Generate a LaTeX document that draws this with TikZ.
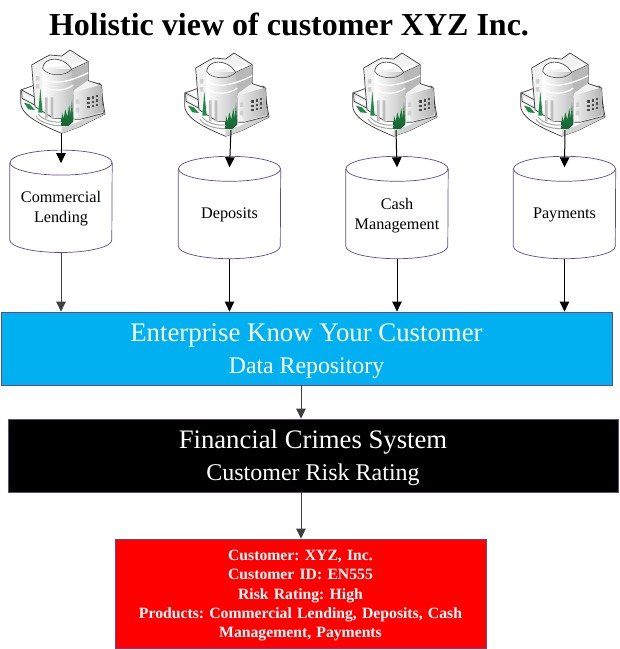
\documentclass[tikz,border=0pt]{standalone}
\usepackage{fontspec}
\setmainfont{Liberation Serif}
\usetikzlibrary{shapes.geometric,arrows.meta,positioning,calc}

\definecolor{edgepurple}{HTML}{5F4B8B}
\definecolor{arrowgray}{HTML}{404040}
\definecolor{repoblue}{HTML}{00B0F0}
\definecolor{bankgreen}{HTML}{1E8C46}
\definecolor{bankline}{HTML}{3C3C3C}

\tikzset{
    store/.style={rectangle, inner sep=0pt, minimum width=102pt, minimum height=102pt},
    storeline/.style={draw=edgepurple, line width=0.7pt},
    storetext/.style={align=center, inner sep=0pt, font=\fontsize{16.2}{20}\selectfont},
    band/.style={rectangle, draw=edgepurple, line width=0.8pt, text=white, align=center, inner sep=0pt},
    arrow/.style={-{Triangle[width=9.5pt,length=10pt]}, line width=1pt},
    grayarrow/.style={arrow, draw=arrowgray, color=arrowgray},
    bank/.pic={
        \begin{scope}[x=0.3333pt, y=-0.3333pt]
        % platform and sign
        \draw[bankline, fill=white, line width=0.7pt] (62,150) -- (62,190) .. controls (65,220) and (100,245) .. (185,280) -- (235,262) -- (315,222) -- (300,130) -- (120,130) -- cycle;
        \fill[black!18] (185,280) -- (235,262) -- (315,222) -- (300,215) -- (225,250) -- (185,262) -- cycle;
        \draw[bankline, fill=black!8, line width=0.7pt] (65,150) -- (106,172) -- (104,195) -- (66,175) -- cycle;
        \fill[white] (72,162) -- (100,177) -- (98,187) -- (72,172) -- cycle;
        \fill[bankgreen] (72,188) -- (90,193) -- (105,210) -- (85,208) -- cycle;
        % main block
        \draw[bankline, fill=black!5, line width=0.7pt] (95,75) -- (135,52) -- (150,45) -- (185,48) -- (210,30) -- (265,65) -- (265,122) -- (305,135) -- (310,220) -- (240,238) -- (160,235) -- (105,200) -- cycle;
        \fill[black!18] (108,108) rectangle (118,122) (108,132) rectangle (118,146);
        % drum
        \shade[left color=white, right color=black!25] (128,85) -- (128,205) -- (160,235) -- (222,235) -- (222,88) -- cycle;
        \draw[bankline, fill=white, line width=0.6pt] (128,85) .. controls (130,50) and (190,45) .. (215,88) -- (265,65);
        \draw[bankline, line width=0.5pt] (128,85) .. controls (140,108) and (195,112) .. (215,88);
        \fill[black!28] (215,90) -- (265,66) -- (265,120) -- (220,152) -- cycle;
        \draw[white, line width=1.3pt] (128,113) .. controls (150,133) and (195,133) .. (265,98) (128,138) .. controls (150,155) and (195,155) .. (220,135);
        % right wing and windows
        \shade[left color=black!6, right color=black!30] (220,158) -- (303,134) -- (308,216) -- (238,236) -- cycle;
        \fill[black!18] (228,178) rectangle (238,192) (228,203) rectangle (238,217);
        \foreach \wx/\wy in {262/172,275/169,288/165,262/185,275/182,288/178,262/198,275/195,288/191}
            \fill[black!70] (\wx,\wy) rectangle ++(7,7);
        % columns and steps
        \fill[black!25] (135,172) rectangle (143,235) (152,172) rectangle (160,235);
        \draw[black!35, line width=1pt] (108,228) .. controls (115,250) and (175,262) .. (195,255) (115,222) .. controls (125,240) and (165,250) .. (185,245);
        % trees
        \fill[bankgreen] (115,218) -- (121,145) -- (128,218) -- cycle;
        \shade[top color=bankgreen, bottom color=bankgreen!70!black] (184,258) -- (186,218) -- (191,235) -- (196,208) -- (202,230) -- (208,195) -- (212,225) -- (216,178) -- (220,245) -- (205,258) -- cycle;
        \end{scope}
    }
}

\begin{document}
\begin{tikzpicture}[x=1pt, y=-1pt]
\useasboundingbox (0,0) rectangle (620,649);
\frenchspacing

\node[font=\fontsize{32}{38}\selectfont\bfseries] (title) at (289,24) {Holistic view of customer XYZ Inc.};

\pic at (0,40) {bank};
\pic at (164,43) {bank};
\pic at (332,43) {bank};
\pic at (500,43) {bank};

\coordinate (bank1) at (61,133);
\coordinate (bank2) at (231,130);
\coordinate (bank3) at (396,130);
\coordinate (bank4) at (565,130);

\node[store] (lending) at (61,201.3) {};
\node[store] (deposits) at (229.5,207.5) {};
\node[store] (cash) at (397,207.5) {};
\node[store] (payments) at (564.5,207.5) {};

\foreach \store in {lending,deposits,cash,payments} {
    \draw[storeline] ([yshift=-12.5pt]\store.north) ellipse [x radius=51pt, y radius=12.5pt];
    \draw[storeline] ([yshift=-12.5pt]\store.north west) -- ([yshift=12.5pt]\store.south west)
        arc [start angle=180, end angle=360, x radius=51pt, y radius=12.5pt]
        -- ([yshift=-12.5pt]\store.north east);
}

\node[storetext] (lendinglabel) at (lending |- 0,209) {Commercial\\Lending};
\node[storetext] (depositslabel) at (deposits |- 0,215) {Deposits};
\node[storetext] (cashlabel) at (cash |- 0,215.5) {Cash\\Management};
\node[storetext] (paymentslabel) at (payments |- 0,215) {Payments};

\node[band, fill=repoblue, minimum width=611pt, minimum height=73pt] (repo) at (306.5,348.5) {\fontsize{26.8}{30}\selectfont\rule{0pt}{23pt}Enterprise Know Your Customer\\[9pt]\fontsize{23.8}{28}\selectfont Data Repository};
\node[band, fill=black, minimum width=610pt, minimum height=73pt] (crimes) at (313,455.5) {\fontsize{26.7}{30}\selectfont\rule{0pt}{23pt}Financial Crimes System\\[9pt]\fontsize{24}{28}\selectfont Customer Risk Rating};
\node[band, fill=red, minimum width=371pt, minimum height=109pt, text width=350pt, font=\fontsize{15.7}{19.3}\selectfont\bfseries] (profile) at (300.5,593.5) {\rule{0pt}{15pt}Customer: XYZ, Inc.\\Customer ID: EN555\\Risk Rating: High\\Products: Commercial Lending, Deposits, Cash\\Management, Payments};

\draw[arrow] (bank1) -- ([yshift=-13pt]lending.north);
\draw[arrow] (bank2) -- ([yshift=-11pt]deposits.north);
\draw[arrow] (bank3) -- ([yshift=-11pt]cash.north);
\draw[arrow] (bank4) -- ([yshift=-11pt]payments.north);

\draw[grayarrow] (lending.south) -- (lending.south |- repo.north);
\draw[arrow] (deposits.south) -- (deposits.south |- repo.north);
\draw[arrow] (cash.south) -- (cash.south |- repo.north);
\draw[arrow] (payments.south) -- (payments.south |- repo.north);

\draw[grayarrow] (301,385) coordinate (repoout) -- (repoout |- crimes.north);
\draw[grayarrow] (repoout |- crimes.south) -- (repoout |- profile.north);

\end{tikzpicture}
\end{document}
